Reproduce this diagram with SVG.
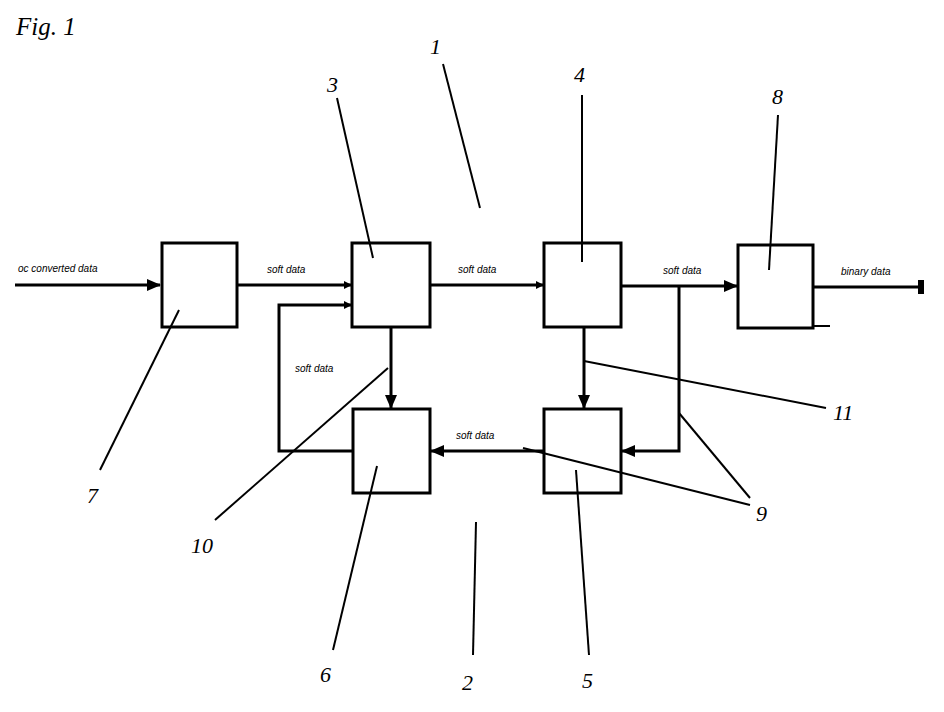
<svg xmlns="http://www.w3.org/2000/svg" width="944" height="712" viewBox="0 0 944 712">
<style>
.b{fill:#fff;stroke:#000;stroke-width:3}
.c{fill:none;stroke:#000;stroke-width:3}
.l{fill:none;stroke:#000;stroke-width:2}
.s{font-family:"Liberation Sans",sans-serif;font-style:italic;font-size:10px}
.n{font-family:"Liberation Serif",serif;font-style:italic;font-size:22px}
</style>
<defs><marker id="a" markerWidth="8" markerHeight="8" refX="7" refY="4" orient="auto" markerUnits="userSpaceOnUse"><path d="M0,0L8,4L0,8z"/></marker>
<marker id="a2" markerWidth="14" markerHeight="12" refX="13" refY="6" orient="auto" markerUnits="userSpaceOnUse"><path d="M0,0L14,6L0,12z"/></marker></defs>
<rect width="944" height="712" fill="#fff"/>
<text x="16" y="35" class="n" style="font-size:25px">Fig. 1</text>
<g id="n7"><rect class="b" x="162" y="243" width="75" height="84"/></g>
<g id="n3"><rect class="b" x="352" y="243" width="78" height="84"/></g>
<g id="n4"><rect class="b" x="544" y="243" width="77" height="84"/></g>
<g id="n8"><rect class="b" x="738" y="245" width="75" height="83"/><path class="l" d="M813 326H830"/></g>
<g id="n6"><rect class="b" x="353" y="409" width="77" height="84"/></g>
<g id="n5"><rect class="b" x="544" y="409" width="77" height="84"/></g>
<g id="connectors">
<path class="c" d="M15 285H160" marker-end="url(#a2)"/>
<path class="c" d="M237 285H351" marker-end="url(#a)"/>
<path class="c" d="M353 451H279V305H351" marker-end="url(#a)"/>
<path class="c" d="M430 285H543" marker-end="url(#a)"/>
<path class="c" d="M621 286H737" marker-end="url(#a2)"/>
<path class="c" d="M813 287H920"/><path d="M918 280h6v14h-6z"/>
<path class="c" d="M391 327V408" marker-end="url(#a2)"/>
<path class="c" d="M584 327V408" marker-end="url(#a2)"/>
<path class="c" d="M679 286V451H622" marker-end="url(#a2)"/>
<path class="c" d="M544 451H431" marker-end="url(#a2)"/>
</g>
<g id="texts">
<text x="18" y="272" class="s">oc converted data</text>
<text x="267" y="273" class="s">soft data</text>
<text x="458" y="273" class="s">soft data</text>
<text x="663" y="274" class="s">soft data</text>
<text x="841" y="275" class="s">binary data</text>
<text x="295" y="372" class="s">soft data</text>
<text x="456" y="439" class="s">soft data</text>
</g>
<g id="leaders">
<path class="l" d="M443 64L480 208"/>
<path class="l" d="M337 98L373 258"/>
<path class="l" d="M582 95V262"/>
<path class="l" d="M778 115L769 270"/>
<path class="l" d="M179 310L100 470"/>
<path class="l" d="M388 368L215 520"/>
<path class="l" d="M377 466L333 650"/>
<path class="l" d="M476 522L473 655"/>
<path class="l" d="M576 470L589 655"/>
<path class="l" d="M584 361L826 408"/>
<path class="l" d="M523 448L750 505"/>
<path class="l" d="M679 413L750 498"/>
</g>
<g id="numbers">
<text x="430" y="54" class="n">1</text>
<text x="327" y="92" class="n">3</text>
<text x="574" y="82" class="n">4</text>
<text x="772" y="104" class="n">8</text>
<text x="87" y="503" class="n">7</text>
<text x="191" y="553" class="n">10</text>
<text x="320" y="682" class="n">6</text>
<text x="462" y="690" class="n">2</text>
<text x="582" y="688" class="n">5</text>
<text x="833" y="420" class="n">11</text>
<text x="756" y="521" class="n">9</text>
</g>
</svg>
